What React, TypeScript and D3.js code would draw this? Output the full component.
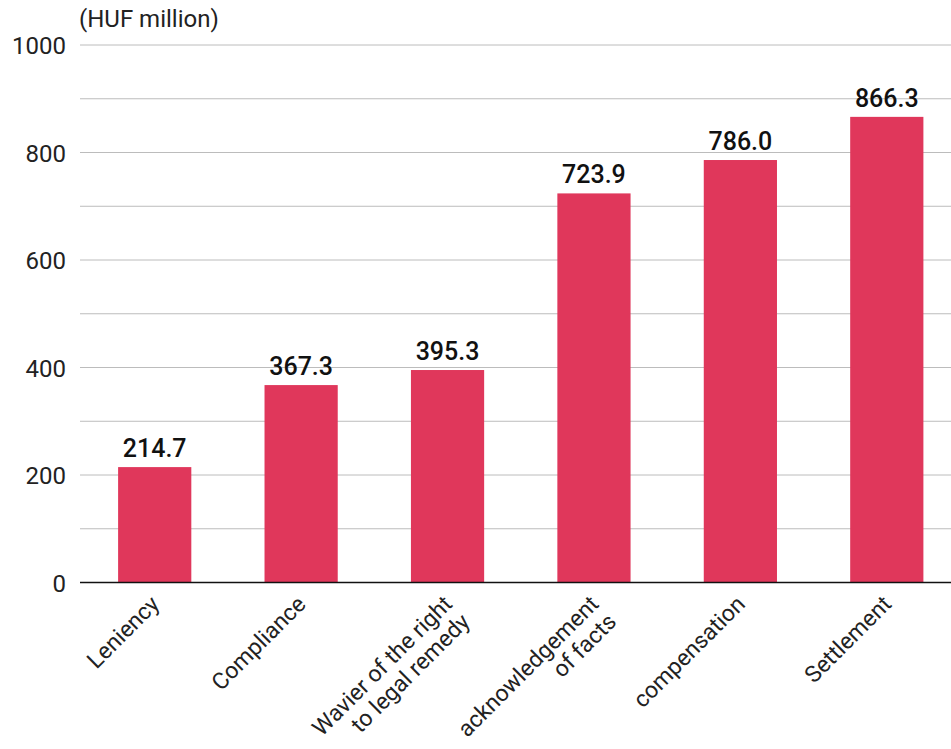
import React from "react";
import * as d3 from "d3";

const categories = [
  "Leniency",
  "Compliance",
  "Wavier of the right\nto legal remedy",
  "acknowledgement\nof facts",
  "compensation",
  "Settlement",
];
const values = [214.7, 367.3, 395.3, 723.9, 786.0, 866.3];
const valueLabels = ["214.7", "367.3", "395.3", "723.9", "786.0", "866.3"];
const yTicks = [0, 200, 400, 600, 800, 1000];
const yGrid = [100, 200, 300, 400, 500, 600, 700, 800, 900, 1000];
const unitLabel = "(HUF million)";

const W = 951;
const H = 749;
const FONT = "Roboto, 'Noto Sans', sans-serif";

export default function App() {
  const x = d3
    .scaleBand<string>()
    .domain(categories)
    .range([81.5, 960])
    .paddingInner(0.5)
    .paddingOuter(0.25);
  const y = d3.scaleLinear().domain([0, 1000]).range([582.5, 45]);
  const left = 80;

  return (
    <svg
      width={W}
      height={H}
      style={{ position: "absolute", left: 0, top: 0, background: "#fff" }}
      fontFamily={FONT}
    >
      <rect x={0} y={0} width={W} height={H} fill="#fff" />
      {yGrid.map((t) => (
        <line
          key={"g" + t}
          x1={left}
          x2={W}
          y1={y(t)}
          y2={y(t)}
          stroke="#bcbcbc"
          strokeWidth={1}
        />
      ))}
      {yTicks.map((t) => (
        <text
          key={"t" + t}
          x={66}
          y={y(t) + 9}
          textAnchor="end"
          fontSize={24}
          fill="#222"
        >
          {t}
        </text>
      ))}
      <text x={79} y={27} fontSize={24} fill="#222">
        {unitLabel}
      </text>
      {categories.map((c, i) => (
        <rect
          key={"b" + c}
          x={x(c)!}
          y={y(values[i])}
          width={x.bandwidth()}
          height={y(0) - y(values[i])}
          fill="#E0375B"
        />
      ))}
      {categories.map((c, i) => (
        <text
          key={"v" + c}
          x={x(c)! + x.bandwidth() / 2}
          y={y(values[i]) - 10}
          textAnchor="middle"
          fontSize={25}
          fontWeight={500}
          fill="#111"
        >
          {valueLabels[i]}
        </text>
      ))}
      <line x1={left} x2={W} y1={y(0)} y2={y(0)} stroke="#111" strokeWidth={1.5} />
      {categories.map((c) => {
        const cx = x(c)! + x.bandwidth() / 2;
        const lines = c.split("\n");
        return (
          <text
            key={"l" + c}
            transform={`translate(${cx + 6},${y(0) + 23}) rotate(-45)`}
            textAnchor="end"
            fontSize={23}
            fill="#222"
          >
            {lines.map((ln, j) => (
              <tspan key={j} x={0} dy={j === 0 ? 0 : 25}>
                {ln}
              </tspan>
            ))}
          </text>
        );
      })}
    </svg>
  );
}
